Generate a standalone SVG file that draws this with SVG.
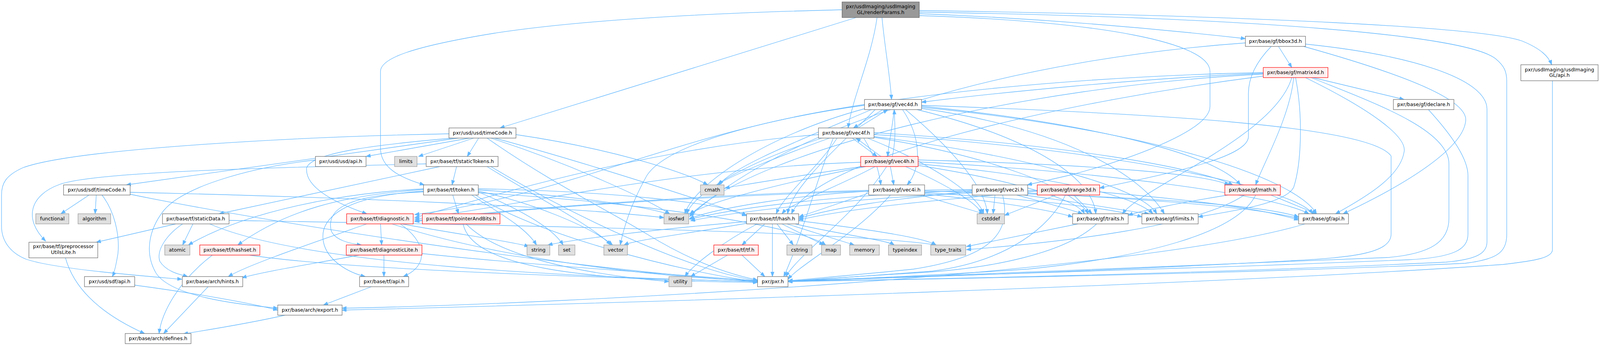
<svg xmlns="http://www.w3.org/2000/svg" width="4205" height="887" viewBox="0 0 4205 887" preserveAspectRatio="none">
<style>
svg:root{width:100vw;height:100vh;display:block}
.e{fill:none;stroke:#63b8ff;stroke-width:1.3;marker-end:url(#a)}
.n{fill:#ffffff;stroke:#666666;stroke-width:1.2}
.r{fill:#fff0f0;stroke:#ff0000;stroke-width:1.2}
.g{fill:#e0e0e0;stroke:#999999;stroke-width:1.2}
.root{fill:#999999;stroke:#666666;stroke-width:1.2}
text{font-family:"DejaVu Sans","Liberation Sans",Arial,sans-serif;font-size:13px;fill:#000000;text-anchor:middle}
</style>
<defs>
<marker id="a" markerUnits="userSpaceOnUse" markerWidth="13" markerHeight="10" refX="12" refY="4.5" orient="auto">
<path d="M0,0 L12,4.5 L0,9 z" fill="#63b8ff" stroke="#63b8ff" stroke-width="1"/>
</marker>
</defs>
<rect width="4205" height="887" fill="#ffffff"/>
<g id="edges">
<path class="e" d="M2250,45 L1314,328"/>
<path class="e" d="M2305,45 C2290,150 2240,250 2229,328"/>
<path class="e" d="M2318,45 C2325,120 2340,200 2343,255"/>
<path class="e" d="M2213,25 C1800,35 1500,55 1300,85 C1080,120 1000,150 1000,183 L1000,380 C1000,430 1050,455 1115,474"/>
<path class="e" d="M2416,35 C2800,50 3100,80 3273,99"/>
<path class="e" d="M2416,40 C2900,55 3180,110 3180,183 L3180,273 C3180,330 3000,400 2816,448 L2700,474"/>
<path class="e" d="M2416,27 C3300,40 3900,70 4000,105 C4050,125 4070,145 4078,166"/>
<path class="e" d="M2416,31 C3300,45 3850,90 3930,150 C3955,170 3960,185 3960,210 L3960,600 C3960,650 3930,665 3850,675 C3300,700 2500,715 2071,722"/>
<path class="e" d="M4080,207 L4080,640 C4080,660 4040,668 3950,678 C3200,730 1700,775 899,795"/>
<path class="e" d="M3360,119 L3395,173"/>
<path class="e" d="M3341,119 C3300,160 3281,200 3281,240 L3281,350 C3281,400 3100,440 2890,482"/>
<path class="e" d="M3426,119 C3650,180 3860,250 3852,310 C3845,380 3700,470 3530,548"/>
<path class="e" d="M3431,113 C3700,140 3908,200 3908,280 L3908,620 C3908,650 3880,665 3800,672 C3200,700 2400,718 2071,720"/>
<path class="e" d="M3273,110 C2700,150 2100,300 1812,555"/>
<path class="e" d="M3451,199 L3690,255"/>
<path class="e" d="M3446,199 C3600,260 3808,330 3808,420 L3808,560 C3808,620 3760,650 3650,660 C3000,690 2400,712 2071,722"/>
<path class="e" d="M3431,199 C3600,280 3700,350 3690,390 C3680,450 3600,500 3510,548"/>
<path class="e" d="M3400,199 C3390,300 3320,420 3300,474"/>
<path class="e" d="M3405,199 C3425,300 3420,420 3400,480 C3380,520 3250,540 3149,556"/>
<path class="e" d="M3395,199 C3350,350 3000,480 2950,548"/>
<path class="e" d="M3320,188 C3000,200 2600,240 2422,262"/>
<path class="e" d="M3320,195 C2800,260 2150,400 2080,548"/>
<path class="e" d="M3320,190 C2700,220 2000,380 1815,550"/>
<path class="e" d="M3320,186 C2600,200 1800,300 1700,450 C1660,520 1640,580 1630,628"/>
<path class="e" d="M3754,281 C3800,330 3858,400 3858,450 L3858,600 C3858,640 3820,660 3700,666 C3100,690 2400,712 2071,720"/>
<path class="e" d="M2320,281 L2243,328"/>
<path class="e" d="M2350,281 C2345,330 2335,370 2333,401"/>
<path class="e" d="M2372,281 C2420,350 2424,430 2384,474"/>
<path class="e" d="M2422,270 C3000,290 3600,320 3656,400 L3656,600 C3656,650 3550,660 3400,668 C3000,690 2400,712 2071,720"/>
<path class="e" d="M2272,270 C1800,330 1500,500 1090,550"/>
<path class="e" d="M2422,275 C3000,330 3400,450 3460,548"/>
<path class="e" d="M2422,278 C2800,330 3000,450 3060,548"/>
<path class="e" d="M2410,281 C2700,350 2870,450 2880,548"/>
<path class="e" d="M2422,272 C2900,320 3200,400 3260,474"/>
<path class="e" d="M2300,281 C2200,380 2080,480 2070,548"/>
<path class="e" d="M2380,281 C2500,380 2590,480 2595,548"/>
<path class="e" d="M2290,281 C2100,360 1920,430 1890,474"/>
<path class="e" d="M2275,278 C2000,350 1820,480 1800,548"/>
<path class="e" d="M2255,328 L2333,281"/>
<path class="e" d="M2240,354 L2305,401"/>
<path class="e" d="M2270,354 C2300,400 2310,440 2315,474"/>
<path class="e" d="M2151,345 C1700,380 1300,500 1090,558"/>
<path class="e" d="M2297,345 C2900,380 3400,480 3450,548"/>
<path class="e" d="M2297,350 C2700,400 3000,480 3040,548"/>
<path class="e" d="M2297,352 C2600,400 2820,480 2860,548"/>
<path class="e" d="M2297,340 C2800,370 3150,430 3240,474"/>
<path class="e" d="M2200,354 C2150,430 2060,500 2040,548"/>
<path class="e" d="M2280,354 C2450,420 2570,500 2585,548"/>
<path class="e" d="M2180,354 C2050,400 1920,450 1885,474"/>
<path class="e" d="M2160,354 C1950,420 1820,500 1805,548"/>
<path class="e" d="M2190,354 C2150,450 2110,600 2060,709"/>
<path class="e" d="M2345,401 C2355,360 2352,320 2350,281"/>
<path class="e" d="M2315,401 L2250,354"/>
<path class="e" d="M2340,427 L2349,474"/>
<path class="e" d="M2262,416 C1800,430 1400,520 1090,562"/>
<path class="e" d="M2413,415 C2900,440 3350,500 3440,548"/>
<path class="e" d="M2413,420 C2750,450 2980,500 3030,548"/>
<path class="e" d="M2413,424 C2650,460 2830,510 2850,548"/>
<path class="e" d="M2413,410 C2800,420 3150,440 3230,474"/>
<path class="e" d="M2300,427 C2200,480 2080,520 2055,548"/>
<path class="e" d="M2380,427 C2480,470 2570,520 2580,548"/>
<path class="e" d="M2265,427 C2100,450 1980,470 1905,482"/>
<path class="e" d="M2275,427 C2050,470 1850,520 1812,550"/>
<path class="e" d="M2330,427 C2250,550 2100,650 2065,709"/>
<path class="e" d="M2283,495 L2100,556"/>
<path class="e" d="M2283,490 C2100,500 1900,530 1812,560"/>
<path class="e" d="M2283,488 C1800,500 1300,540 1090,566"/>
<path class="e" d="M2430,490 C2900,500 3300,520 3413,556"/>
<path class="e" d="M2430,494 C2700,510 2900,530 3001,556"/>
<path class="e" d="M2430,497 C2600,515 2750,535 2819,556"/>
<path class="e" d="M2420,500 L2585,548"/>
<path class="e" d="M2340,500 C2250,600 2100,680 2071,716"/>
<path class="e" d="M2615,500 L2610,548"/>
<path class="e" d="M2672,500 C2750,520 2820,540 2845,548"/>
<path class="e" d="M2690,500 C2850,520 2950,540 3020,548"/>
<path class="e" d="M2701,495 C3000,510 3300,530 3413,560"/>
<path class="e" d="M2555,490 C2350,510 2200,530 2099,560"/>
<path class="e" d="M2555,488 C2200,500 1950,530 1812,562"/>
<path class="e" d="M2555,486 C2000,490 1400,530 1090,568"/>
<path class="e" d="M2635,500 C2660,600 2600,660 2400,690 C2250,705 2120,715 2071,720"/>
<path class="e" d="M2775,500 L2640,552"/>
<path class="e" d="M2822,500 L2870,548"/>
<path class="e" d="M2890,492 C3100,510 3300,530 3413,564"/>
<path class="e" d="M2726,490 C2500,510 2250,530 2099,564"/>
<path class="e" d="M2726,488 C2300,500 1950,540 1815,566"/>
<path class="e" d="M2800,500 C2760,580 2650,670 2450,695 C2250,710 2120,718 2071,722"/>
<path class="e" d="M3227,500 C3100,520 3000,540 2965,552"/>
<path class="e" d="M3340,500 L3460,548"/>
<path class="e" d="M3270,500 C3150,580 2800,620 2540,640"/>
<path class="e" d="M3300,500 C3250,600 3000,660 2700,690 C2400,710 2150,718 2071,722"/>
<path class="e" d="M2833,574 C2700,600 2600,620 2540,632"/>
<path class="e" d="M2882,574 C2800,650 2600,690 2400,700 C2200,712 2100,718 2071,722"/>
<path class="e" d="M3430,574 C3000,700 1500,780 899,790"/>
<path class="e" d="M1234,354 L962,401"/>
<path class="e" d="M1245,354 L1100,401"/>
<path class="e" d="M1258,354 L1228,401"/>
<path class="e" d="M1205,354 L332,474"/>
<path class="e" d="M1180,343 C800,350 200,380 60,430 C15,450 4,470 4,500 L4,580 C4,620 30,650 70,665 C150,690 350,705 478,716"/>
<path class="e" d="M1190,354 C1000,370 820,390 806,430 C800,480 880,520 964,548"/>
<path class="e" d="M1300,354 C1550,420 1800,500 1962,553"/>
<path class="e" d="M1290,354 C1500,420 1700,510 1760,548"/>
<path class="e" d="M1356,345 C1600,380 1800,440 1860,474"/>
<path class="e" d="M1280,354 C1450,470 1600,540 1700,600 C1800,660 1900,700 1991,718"/>
<path class="e" d="M829,410 C650,430 480,480 430,540 C390,590 380,650 410,700 C450,760 620,780 730,790"/>
<path class="e" d="M234,500 L160,548"/>
<path class="e" d="M253,500 L250,548"/>
<path class="e" d="M268,500 C300,540 315,600 310,650 C305,680 300,700 295,709"/>
<path class="e" d="M342,493 C900,505 1500,530 1745,558"/>
<path class="e" d="M342,498 C700,570 1500,690 1991,722"/>
<path class="e" d="M462,574 L253,621"/>
<path class="e" d="M480,574 C440,600 410,640 420,670 C440,700 480,705 493,709"/>
<path class="e" d="M507,574 L480,628"/>
<path class="e" d="M602,565 C1200,575 2200,590 2460,628"/>
<path class="e" d="M551,574 C800,680 1500,710 1991,722"/>
<path class="e" d="M172,661 C200,760 300,820 380,855"/>
<path class="e" d="M558,654 C470,720 425,800 418,855"/>
<path class="e" d="M656,654 C900,690 1500,710 1991,722"/>
<path class="e" d="M964,574 C800,630 650,680 600,709"/>
<path class="e" d="M1000,574 L1003,628"/>
<path class="e" d="M1052,574 C1120,620 1130,680 1060,709"/>
<path class="e" d="M1056,574 C1200,600 1350,620 1390,632"/>
<path class="e" d="M1030,574 C1300,660 1700,710 1991,720"/>
<path class="e" d="M944,654 C800,680 700,695 636,712"/>
<path class="e" d="M1009,654 L1009,709"/>
<path class="e" d="M1109,650 C1400,680 1800,705 1991,720"/>
<path class="e" d="M1217,574 C1240,680 1500,720 1991,724"/>
<path class="e" d="M1225,574 C1300,650 1500,700 1758,722"/>
<path class="e" d="M1190,500 L1205,548"/>
<path class="e" d="M1113,492 C900,500 860,540 870,590 C878,615 920,625 950,628"/>
<path class="e" d="M1113,490 C880,505 840,570 850,620 C860,670 920,700 960,709"/>
<path class="e" d="M1113,486 C900,500 750,540 625,628"/>
<path class="e" d="M1113,484 C900,495 650,540 495,628"/>
<path class="e" d="M1240,500 C1300,540 1380,580 1410,628"/>
<path class="e" d="M1257,492 C1350,530 1450,580 1480,628"/>
<path class="e" d="M1257,490 C1400,520 1550,580 1610,628"/>
<path class="e" d="M1257,487 C1500,500 1700,530 1760,550"/>
<path class="e" d="M1257,484 C1600,490 1900,520 1962,552"/>
<path class="e" d="M1250,500 C1400,600 1800,700 1991,722"/>
<path class="e" d="M1257,494 C1700,520 2100,580 2170,628"/>
<path class="e" d="M1200,427 L1188,474"/>
<path class="e" d="M1156,427 L576,548"/>
<path class="e" d="M1120,420 C700,430 250,440 156,473 C80,500 60,560 120,618"/>
<path class="e" d="M1280,427 C1400,500 1560,580 1605,628"/>
<path class="e" d="M1290,427 C1500,550 1800,690 1991,720"/>
<path class="e" d="M2010,574 L1950,628"/>
<path class="e" d="M2030,574 L2030,709"/>
<path class="e" d="M2042,574 L2085,628"/>
<path class="e" d="M2055,574 L2165,628"/>
<path class="e" d="M2068,574 L2245,628"/>
<path class="e" d="M2090,574 C2200,600 2330,615 2350,628"/>
<path class="e" d="M2099,566 C2300,590 2430,610 2460,628"/>
<path class="e" d="M1965,572 C1800,600 1670,615 1640,628"/>
<path class="e" d="M1990,574 C1900,620 1820,680 1800,709"/>
<path class="e" d="M1962,568 C1700,590 1500,615 1440,628"/>
<path class="e" d="M1912,654 L1815,709"/>
<path class="e" d="M1950,654 L2010,709"/>
<path class="e" d="M547,735 L430,855"/>
<path class="e" d="M354,731 C500,750 650,775 730,795"/>
<path class="e" d="M976,735 L850,782"/>
<path class="e" d="M749,808 C650,830 550,845 482,856"/>
</g>
<g id="n_root"><rect class="root" x="2213" y="5" width="203" height="40"/><text x="2314.5" y="21">pxr/usdImaging/usdImaging</text><text x="2314.5" y="36">GL/renderParams.h</text></g>
<g id="n_glapi"><rect class="n" x="3997" y="166" width="203" height="41"/><text x="4098.5" y="183.5">pxr/usdImaging/usdImaging</text><text x="4098.5" y="197.5">GL/api.h</text></g>
<g id="n_bbox"><rect class="n" x="3273" y="93" width="158" height="26"/><text x="3352" y="110.5">pxr/base/gf/bbox3d.h</text></g>
<g id="n_m4d"><rect class="r" x="3320" y="173" width="170" height="26"/><text x="3405" y="190.5">pxr/base/gf/matrix4d.h</text></g>
<g id="n_v4d"><rect class="n" x="2272" y="255" width="150" height="26"/><text x="2347" y="272.5">pxr/base/gf/vec4d.h</text></g>
<g id="n_decl"><rect class="n" x="3662" y="255" width="159" height="26"/><text x="3741.5" y="272.5">pxr/base/gf/declare.h</text></g>
<g id="n_usdtc"><rect class="n" x="1180" y="328" width="176" height="26"/><text x="1268" y="345.5">pxr/usd/usd/timeCode.h</text></g>
<g id="n_v4f"><rect class="n" x="2151" y="328" width="146" height="26"/><text x="2224" y="345.5">pxr/base/gf/vec4f.h</text></g>
<g id="n_usdapi"><rect class="n" x="829" y="401" width="133" height="26"/><text x="895.5" y="418.5">pxr/usd/usd/api.h</text></g>
<g id="n_limits"><rect class="g" x="1037" y="401" width="59" height="26"/><text x="1066.5" y="418.5">limits</text></g>
<g id="n_stok"><rect class="n" x="1120" y="401" width="189" height="26"/><text x="1214.5" y="418.5">pxr/base/tf/staticTokens.h</text></g>
<g id="n_v4h"><rect class="r" x="2262" y="401" width="151" height="26"/><text x="2337.5" y="418.5">pxr/base/gf/vec4h.h</text></g>
<g id="n_sdftc"><rect class="n" x="167" y="474" width="175" height="26"/><text x="254.5" y="491.5">pxr/usd/sdf/timeCode.h</text></g>
<g id="n_token"><rect class="n" x="1113" y="474" width="144" height="26"/><text x="1185" y="491.5">pxr/base/tf/token.h</text></g>
<g id="n_cmath"><rect class="g" x="1841" y="474" width="62" height="26"/><text x="1872" y="491.5">cmath</text></g>
<g id="n_v4i"><rect class="n" x="2283" y="474" width="147" height="26"/><text x="2356.5" y="491.5">pxr/base/gf/vec4i.h</text></g>
<g id="n_v2i"><rect class="n" x="2555" y="474" width="146" height="26"/><text x="2628" y="491.5">pxr/base/gf/vec2i.h</text></g>
<g id="n_r3d"><rect class="r" x="2726" y="474" width="164" height="26"/><text x="2808" y="491.5">pxr/base/gf/range3d.h</text></g>
<g id="n_math"><rect class="r" x="3219" y="474" width="146" height="26"/><text x="3292" y="491.5">pxr/base/gf/math.h</text></g>
<g id="n_func"><rect class="g" x="94" y="548" width="87" height="26"/><text x="137.5" y="565.5">functional</text></g>
<g id="n_algo"><rect class="g" x="205" y="548" width="86" height="26"/><text x="248" y="565.5">algorithm</text></g>
<g id="n_sdata"><rect class="n" x="427" y="548" width="175" height="26"/><text x="514.5" y="565.5">pxr/base/tf/staticData.h</text></g>
<g id="n_diag"><rect class="r" x="911" y="548" width="175" height="26"/><text x="998.5" y="565.5">pxr/base/tf/diagnostic.h</text></g>
<g id="n_pab"><rect class="r" x="1110" y="548" width="204" height="26"/><text x="1212" y="565.5">pxr/base/tf/pointerAndBits.h</text></g>
<g id="n_iosfwd"><rect class="g" x="1745" y="548" width="65" height="26"/><text x="1777.5" y="565.5">iosfwd</text></g>
<g id="n_hash"><rect class="n" x="1962" y="548" width="137" height="26"/><text x="2030.5" y="565.5">pxr/base/tf/hash.h</text></g>
<g id="n_cstddef"><rect class="g" x="2568" y="548" width="72" height="26"/><text x="2604" y="565.5">cstddef</text></g>
<g id="n_gftraits"><rect class="n" x="2819" y="548" width="146" height="26"/><text x="2892" y="565.5">pxr/base/gf/traits.h</text></g>
<g id="n_gflimits"><rect class="n" x="3001" y="548" width="148" height="26"/><text x="3075" y="565.5">pxr/base/gf/limits.h</text></g>
<g id="n_gfapi"><rect class="n" x="3413" y="548" width="131" height="26"/><text x="3478.5" y="565.5">pxr/base/gf/api.h</text></g>
<g id="n_ppul"><rect class="n" x="76" y="621" width="181" height="40"/><text x="166.5" y="636.5">pxr/base/tf/preprocessor</text><text x="166.5" y="651.5">UtilsLite.h</text></g>
<g id="n_atomic"><rect class="g" x="433" y="628" width="66" height="26"/><text x="466" y="645.5">atomic</text></g>
<g id="n_hashset"><rect class="r" x="525" y="628" width="158" height="26"/><text x="604" y="645.5">pxr/base/tf/hashset.h</text></g>
<g id="n_diaglite"><rect class="r" x="910" y="628" width="199" height="26"/><text x="1009.5" y="645.5">pxr/base/tf/diagnosticLite.h</text></g>
<g id="n_string"><rect class="g" x="1385" y="628" width="60" height="26"/><text x="1415" y="645.5">string</text></g>
<g id="n_set"><rect class="g" x="1468" y="628" width="43" height="26"/><text x="1489.5" y="645.5">set</text></g>
<g id="n_vector"><rect class="g" x="1587" y="628" width="62" height="26"/><text x="1618" y="645.5">vector</text></g>
<g id="n_tf"><rect class="r" x="1876" y="628" width="117" height="26"/><text x="1934.5" y="645.5">pxr/base/tf/tf.h</text></g>
<g id="n_cstring"><rect class="g" x="2068" y="628" width="66" height="26"/><text x="2101" y="645.5">cstring</text></g>
<g id="n_map"><rect class="g" x="2159" y="628" width="50" height="26"/><text x="2184" y="645.5">map</text></g>
<g id="n_memory"><rect class="g" x="2233" y="628" width="78" height="26"/><text x="2272" y="645.5">memory</text></g>
<g id="n_typeindex"><rect class="g" x="2335" y="628" width="87" height="26"/><text x="2378.5" y="645.5">typeindex</text></g>
<g id="n_typetraits"><rect class="g" x="2446" y="628" width="92" height="26"/><text x="2492" y="645.5">type_traits</text></g>
<g id="n_sdfapi"><rect class="n" x="222" y="709" width="132" height="26"/><text x="288" y="726.5">pxr/usd/sdf/api.h</text></g>
<g id="n_hints"><rect class="n" x="479" y="709" width="159" height="26"/><text x="558.5" y="726.5">pxr/base/arch/hints.h</text></g>
<g id="n_tfapi"><rect class="n" x="945" y="709" width="129" height="26"/><text x="1009.5" y="726.5">pxr/base/tf/api.h</text></g>
<g id="n_utility"><rect class="g" x="1758" y="709" width="60" height="26"/><text x="1788" y="726.5">utility</text></g>
<g id="n_pxr"><rect class="n" x="1991" y="709" width="80" height="26"/><text x="2031" y="726.5">pxr/pxr.h</text></g>
<g id="n_export"><rect class="n" x="730" y="782" width="169" height="26"/><text x="814.5" y="799.5">pxr/base/arch/export.h</text></g>
<g id="n_defines"><rect class="n" x="329" y="855" width="173" height="26"/><text x="415.5" y="872.5">pxr/base/arch/defines.h</text></g>
</svg>
